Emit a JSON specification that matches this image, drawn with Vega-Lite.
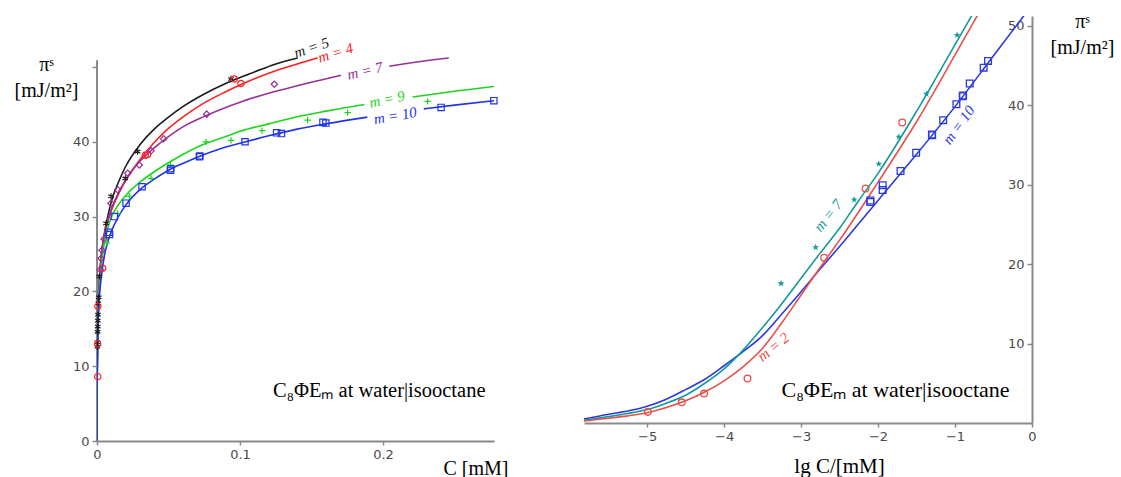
{
  "$schema": "https://vega.github.io/schema/vega-lite/v6.json",
  "background": "white",
  "padding": {"left": 14, "top": 11, "right": 0, "bottom": 0},
  "autosize": {"type": "pad"},
  "spacing": 76,
  "config": {
    "view": {"stroke": null},
    "axis": {
      "grid": false,
      "labelFont": "DejaVu Sans",
      "labelFontSize": 13,
      "labelColor": "#4a4a4a",
      "labelFlush": false,
      "labelOverlap": false,
      "domainColor": "#8a8a8a",
      "domainWidth": 2,
      "tickColor": "#8a8a8a",
      "tickWidth": 1.5,
      "tickSize": 4,
      "labelPadding": 3,
      "titleFont": "Liberation Serif",
      "titleFontWeight": "normal",
      "titleColor": "#000000"
    }
  },
  "resolve": {"scale": {"color": "independent", "shape": "independent"}},
  "hconcat": [
    {
      "width": 397,
      "height": 425,
      "layer": [
        {
          "data": {"values": [{"C": 0, "pi": 0, "pi2": 50.9}]},
          "mark": {"type": "rule", "color": "#8a8a8a", "strokeWidth": 2},
          "encoding": {
            "x": {"field": "C", "type": "quantitative",
              "scale": {"domain": [0, 0.2776], "nice": false, "zero": false},
              "axis": {"values": [0, 0.1, 0.2], "format": "~g", "title": "C [mM]", "titleFontSize": 20,
                "titleX": 411, "titleY": 27, "titleAlign": "right", "titleBaseline": "middle", "titleAnchor": "end"}},
            "y": {"field": "pi", "type": "quantitative",
              "scale": {"domain": [0, 56.82], "nice": false, "zero": false},
              "axis": {"values": [0, 10, 20, 30, 40, 50], "domain": false, "labelExpr": "datum.value == 50 ? '' : datum.label",
                "tickSize": 5, "title": ["πˢ", "[mJ/m²]"], "titleAngle": 0, "titleFontSize": 20, "titleLineHeight": 26,
                "titleX": -51, "titleY": 48, "titleAlign": "center", "titleBaseline": "middle", "titleAnchor": null}},
            "y2": {"field": "pi2"}
          }
        },
        {
          "data": {"values": [
            {"m":"5","s":"a","C":0,"pi":0},{"m":"5","s":"a","C":0.0001,"pi":7.5},{"m":"5","s":"a","C":0.0003,"pi":12.5},{"m":"5","s":"a","C":0.0006,"pi":16},{"m":"5","s":"a","C":0.001,"pi":19},{"m":"5","s":"a","C":0.002,"pi":22.5},{"m":"5","s":"a","C":0.003,"pi":24.8},{"m":"5","s":"a","C":0.005,"pi":27.6},{"m":"5","s":"a","C":0.0075,"pi":30},{"m":"5","s":"a","C":0.01,"pi":32},{"m":"5","s":"a","C":0.015,"pi":34.6},{"m":"5","s":"a","C":0.02,"pi":36.7},{"m":"5","s":"a","C":0.03,"pi":39.6},{"m":"5","s":"a","C":0.04,"pi":41.7},{"m":"5","s":"a","C":0.05,"pi":43.3},{"m":"5","s":"a","C":0.06,"pi":44.7},{"m":"5","s":"a","C":0.075,"pi":46.4},{"m":"5","s":"a","C":0.09,"pi":47.8},{"m":"5","s":"a","C":0.1,"pi":48.6},{"m":"5","s":"a","C":0.115,"pi":49.7},{"m":"5","s":"a","C":0.125,"pi":50.4},{"m":"5","s":"a","C":0.1403,"pi":51.2},
            {"m":"4","s":"a","C":0,"pi":0},{"m":"4","s":"a","C":0.0001,"pi":6},{"m":"4","s":"a","C":0.0003,"pi":11},{"m":"4","s":"a","C":0.0006,"pi":14.8},{"m":"4","s":"a","C":0.001,"pi":18},{"m":"4","s":"a","C":0.002,"pi":22},{"m":"4","s":"a","C":0.003,"pi":24.5},{"m":"4","s":"a","C":0.005,"pi":27.4},{"m":"4","s":"a","C":0.0075,"pi":29.3},{"m":"4","s":"a","C":0.01,"pi":30.8},{"m":"4","s":"a","C":0.015,"pi":33},{"m":"4","s":"a","C":0.02,"pi":34.8},{"m":"4","s":"a","C":0.03,"pi":37.6},{"m":"4","s":"a","C":0.04,"pi":39.9},{"m":"4","s":"a","C":0.05,"pi":41.8},{"m":"4","s":"a","C":0.06,"pi":43.3},{"m":"4","s":"a","C":0.075,"pi":45.2},{"m":"4","s":"a","C":0.09,"pi":46.7},{"m":"4","s":"a","C":0.1,"pi":47.6},{"m":"4","s":"a","C":0.115,"pi":48.8},{"m":"4","s":"a","C":0.125,"pi":49.5},{"m":"4","s":"a","C":0.14,"pi":50.4},{"m":"4","s":"a","C":0.1543,"pi":51.2},
            {"m":"7","s":"a","C":0,"pi":0},{"m":"7","s":"a","C":0.0001,"pi":7},{"m":"7","s":"a","C":0.0003,"pi":12},{"m":"7","s":"a","C":0.0006,"pi":15.8},{"m":"7","s":"a","C":0.001,"pi":19},{"m":"7","s":"a","C":0.002,"pi":22.5},{"m":"7","s":"a","C":0.003,"pi":24.8},{"m":"7","s":"a","C":0.005,"pi":27.3},{"m":"7","s":"a","C":0.0075,"pi":29.5},{"m":"7","s":"a","C":0.01,"pi":31},{"m":"7","s":"a","C":0.015,"pi":33.2},{"m":"7","s":"a","C":0.02,"pi":34.9},{"m":"7","s":"a","C":0.03,"pi":37.4},{"m":"7","s":"a","C":0.04,"pi":39.2},{"m":"7","s":"a","C":0.05,"pi":40.7},{"m":"7","s":"a","C":0.06,"pi":42},{"m":"7","s":"a","C":0.075,"pi":43.4},{"m":"7","s":"a","C":0.09,"pi":44.6},{"m":"7","s":"a","C":0.1,"pi":45.3},{"m":"7","s":"a","C":0.12,"pi":46.5},{"m":"7","s":"a","C":0.14,"pi":47.5},{"m":"7","s":"a","C":0.1706,"pi":48.9},
            {"m":"7","s":"b","C":0.2044,"pi":50.1},{"m":"7","s":"b","C":0.225,"pi":50.7},{"m":"7","s":"b","C":0.246,"pi":51.2},
            {"m":"9","s":"a","C":0,"pi":0},{"m":"9","s":"a","C":0.0001,"pi":7.5},{"m":"9","s":"a","C":0.0003,"pi":11.5},{"m":"9","s":"a","C":0.0006,"pi":14.8},{"m":"9","s":"a","C":0.001,"pi":17.5},{"m":"9","s":"a","C":0.002,"pi":21.2},{"m":"9","s":"a","C":0.003,"pi":23.5},{"m":"9","s":"a","C":0.005,"pi":26.3},{"m":"9","s":"a","C":0.0075,"pi":28.4},{"m":"9","s":"a","C":0.01,"pi":29.9},{"m":"9","s":"a","C":0.015,"pi":31.6},{"m":"9","s":"a","C":0.02,"pi":32.8},{"m":"9","s":"a","C":0.03,"pi":34.6},{"m":"9","s":"a","C":0.04,"pi":36},{"m":"9","s":"a","C":0.05,"pi":37.2},{"m":"9","s":"a","C":0.06,"pi":38.3},{"m":"9","s":"a","C":0.075,"pi":39.7},{"m":"9","s":"a","C":0.09,"pi":40.7},{"m":"9","s":"a","C":0.1,"pi":41.4},{"m":"9","s":"a","C":0.12,"pi":42.4},{"m":"9","s":"a","C":0.14,"pi":43.35},{"m":"9","s":"a","C":0.16,"pi":44.1},{"m":"9","s":"a","C":0.187,"pi":45},
            {"m":"9","s":"b","C":0.2207,"pi":46},{"m":"9","s":"b","C":0.25,"pi":46.75},{"m":"9","s":"b","C":0.2776,"pi":47.4},
            {"m":"10","s":"a","C":0,"pi":0},{"m":"10","s":"a","C":0.00001,"pi":2.1},{"m":"10","s":"a","C":0.00003,"pi":4.2},{"m":"10","s":"a","C":0.0001,"pi":7.2},{"m":"10","s":"a","C":0.0003,"pi":10.8},{"m":"10","s":"a","C":0.0006,"pi":13.8},{"m":"10","s":"a","C":0.001,"pi":16.5},{"m":"10","s":"a","C":0.002,"pi":20},{"m":"10","s":"a","C":0.003,"pi":21.9},{"m":"10","s":"a","C":0.005,"pi":24.6},{"m":"10","s":"a","C":0.0075,"pi":26.6},{"m":"10","s":"a","C":0.01,"pi":28},{"m":"10","s":"a","C":0.015,"pi":30},{"m":"10","s":"a","C":0.02,"pi":31.5},{"m":"10","s":"a","C":0.03,"pi":33.6},{"m":"10","s":"a","C":0.04,"pi":35},{"m":"10","s":"a","C":0.05,"pi":36.2},{"m":"10","s":"a","C":0.06,"pi":37.1},{"m":"10","s":"a","C":0.075,"pi":38.3},{"m":"10","s":"a","C":0.09,"pi":39.3},{"m":"10","s":"a","C":0.1,"pi":39.8},{"m":"10","s":"a","C":0.12,"pi":40.8},{"m":"10","s":"a","C":0.14,"pi":41.7},{"m":"10","s":"a","C":0.16,"pi":42.4},{"m":"10","s":"a","C":0.189,"pi":43.3},
            {"m":"10","s":"b","C":0.2285,"pi":44.4},{"m":"10","s":"b","C":0.25,"pi":44.9},{"m":"10","s":"b","C":0.2776,"pi":45.5}
          ]},
          "mark": {"type": "line", "strokeWidth": 1.6, "clip": true, "interpolate": "monotone"},
          "encoding": {
            "x": {"field": "C", "type": "quantitative"},
            "y": {"field": "pi", "type": "quantitative"},
            "color": {"field": "m", "type": "nominal", "legend": null,
              "scale": {"domain": ["5", "4", "7", "9", "10"], "range": ["#1a1a1a", "#ff2020", "#9a2f96", "#1ed41e", "#1f35e6"]}},
            "detail": {"field": "s"}
          }
        },
        {
          "data": {"values": [
            {"m":"5","C":0.0002,"pi":12.6},{"m":"5","C":0.0003,"pi":13.2},{"m":"5","C":0.0004,"pi":14.6},{"m":"5","C":0.0005,"pi":15.3},{"m":"5","C":0.0006,"pi":16.1},{"m":"5","C":0.0007,"pi":16.9},{"m":"5","C":0.0009,"pi":18.4},{"m":"5","C":0.0012,"pi":19.2},{"m":"5","C":0.0016,"pi":22},{"m":"5","C":0.0063,"pi":29.1},{"m":"5","C":0.0098,"pi":32.7},{"m":"5","C":0.0198,"pi":35.1},{"m":"5","C":0.0284,"pi":38.7},{"m":"5","C":0.0937,"pi":48.4},
            {"m":"4","C":0.0005,"pi":8.6},{"m":"4","C":0.0005,"pi":13},{"m":"4","C":0.0006,"pi":18},{"m":"4","C":0.004,"pi":23.1},{"m":"4","C":0.0338,"pi":38.2},{"m":"4","C":0.0354,"pi":38.3},{"m":"4","C":0.096,"pi":48.4},{"m":"4","C":0.1007,"pi":47.8},
            {"m":"7","C":0.0023,"pi":22.9},{"m":"7","C":0.0028,"pi":24.4},{"m":"7","C":0.0035,"pi":25.5},{"m":"7","C":0.005,"pi":27},{"m":"7","C":0.0098,"pi":31.8},{"m":"7","C":0.0145,"pi":33.6},{"m":"7","C":0.0215,"pi":35.8},{"m":"7","C":0.0296,"pi":36.9},{"m":"7","C":0.0378,"pi":38.8},{"m":"7","C":0.0466,"pi":40.4},{"m":"7","C":0.0767,"pi":43.7},{"m":"7","C":0.124,"pi":47.7},
            {"m":"9","C":0.007,"pi":26.5},{"m":"9","C":0.0145,"pi":30.4},{"m":"9","C":0.0226,"pi":32.7},{"m":"9","C":0.0378,"pi":35.1},{"m":"9","C":0.0513,"pi":36.9},{"m":"9","C":0.0762,"pi":40},{"m":"9","C":0.0937,"pi":40.2},{"m":"9","C":0.1154,"pi":41.5},{"m":"9","C":0.1473,"pi":42.9},{"m":"9","C":0.1753,"pi":43.9},{"m":"9","C":0.2312,"pi":45.4},
            {"m":"10","C":0.0084,"pi":27.9},{"m":"10","C":0.0088,"pi":27.6},{"m":"10","C":0.0121,"pi":30},{"m":"10","C":0.0203,"pi":31.8},{"m":"10","C":0.0315,"pi":34},{"m":"10","C":0.0513,"pi":36.2},{"m":"10","C":0.0516,"pi":36.4},{"m":"10","C":0.0716,"pi":38},{"m":"10","C":0.0719,"pi":38.1},{"m":"10","C":0.1035,"pi":40},{"m":"10","C":0.1256,"pi":41.2},{"m":"10","C":0.129,"pi":41.1},{"m":"10","C":0.158,"pi":42.6},{"m":"10","C":0.16,"pi":42.5},{"m":"10","C":0.2406,"pi":44.6},{"m":"10","C":0.2775,"pi":45.5}
          ]},
          "mark": {"type": "point", "filled": false, "strokeWidth": 1.2, "size": 40, "opacity": 1},
          "encoding": {
            "x": {"field": "C", "type": "quantitative"},
            "y": {"field": "pi", "type": "quantitative"},
            "color": {"field": "m", "type": "nominal", "legend": null},
            "shape": {"field": "m", "type": "nominal", "legend": null,
              "scale": {"domain": ["5", "4", "7", "9", "10"],
                "range": ["M0,-1L0,1M-0.87,-0.5L0.87,0.5M-0.87,0.5L0.87,-0.5", "circle", "diamond", "M-1,0L1,0M0,-1L0,1", "square"]}}
          }
        },
        {
          "data": {"values": [
            {"m":"5","C":0.15,"pi":52.6,"t":"m = 5"},
            {"m":"4","C":0.1668,"pi":51.9,"t":"m = 4"},
            {"m":"7","C":0.1874,"pi":49.5,"t":"m = 7"},
            {"m":"9","C":0.2028,"pi":45.7,"t":"m = 9"},
            {"m":"10","C":0.2085,"pi":43.5,"t":"m = 10"}
          ]},
          "mark": {"type": "text", "font": "Liberation Serif", "fontSize": 15, "fontStyle": "italic", "align": "center", "baseline": "middle"},
          "encoding": {
            "x": {"field": "C", "type": "quantitative"},
            "y": {"field": "pi", "type": "quantitative"},
            "text": {"field": "t"},
            "color": {"field": "m", "type": "nominal", "legend": null},
            "angle": {"condition": [
              {"test": "datum.m == '5'", "value": 342},
              {"test": "datum.m == '4'", "value": 343},
              {"test": "datum.m == '7'", "value": 347},
              {"test": "datum.m == '9'", "value": 348}
            ], "value": 350}
          }
        },
        {
          "data": {"values": [{"C": 0.1974, "pi": 6.7, "t": "C₈ΦEₘ at water|isooctane"}]},
          "mark": {"type": "text", "font": "Liberation Serif", "fontSize": 20.5, "color": "#000000", "align": "center", "baseline": "middle"},
          "encoding": {
            "x": {"field": "C", "type": "quantitative"},
            "y": {"field": "pi", "type": "quantitative"},
            "text": {"field": "t"}
          }
        }
      ]
    },
    {
      "width": 448,
      "height": 407,
      "layer": [
        {
          "data": {"values": [
            {"mR":"10","lg":-5.82,"pi":0.5},{"mR":"10","lg":-5.5,"pi":1.1},{"mR":"10","lg":-5.25,"pi":1.5},{"mR":"10","lg":-5,"pi":2.1},{"mR":"10","lg":-4.75,"pi":3},{"mR":"10","lg":-4.5,"pi":4.2},{"mR":"10","lg":-4.25,"pi":5.5},{"mR":"10","lg":-4,"pi":7.2},{"mR":"10","lg":-3.75,"pi":9},{"mR":"10","lg":-3.5,"pi":11},{"mR":"10","lg":-3.25,"pi":13.7},{"mR":"10","lg":-3,"pi":16.5},{"mR":"10","lg":-2.75,"pi":19.4},{"mR":"10","lg":-2.5,"pi":22.2},{"mR":"10","lg":-2.25,"pi":25.1},{"mR":"10","lg":-2,"pi":28},{"mR":"10","lg":-1.5,"pi":33.8},{"mR":"10","lg":-1,"pi":39.8},{"mR":"10","lg":-0.5,"pi":46.2},{"mR":"10","lg":-0.1,"pi":51.3},
            {"mR":"7","lg":-5.82,"pi":0.35},{"mR":"7","lg":-5.5,"pi":0.8},{"mR":"7","lg":-5.25,"pi":1.2},{"mR":"7","lg":-5,"pi":1.7},{"mR":"7","lg":-4.75,"pi":2.5},{"mR":"7","lg":-4.5,"pi":3.5},{"mR":"7","lg":-4.25,"pi":5},{"mR":"7","lg":-4,"pi":6.8},{"mR":"7","lg":-3.75,"pi":9.2},{"mR":"7","lg":-3.5,"pi":12},{"mR":"7","lg":-3.25,"pi":15},{"mR":"7","lg":-3,"pi":18.2},{"mR":"7","lg":-2.75,"pi":21.4},{"mR":"7","lg":-2.5,"pi":24.5},{"mR":"7","lg":-2.25,"pi":28},{"mR":"7","lg":-2,"pi":31.4},{"mR":"7","lg":-1.5,"pi":39.2},{"mR":"7","lg":-1,"pi":47.6},{"mR":"7","lg":-0.75,"pi":51.8},
            {"mR":"2","lg":-5.82,"pi":0.25},{"mR":"2","lg":-5.5,"pi":0.6},{"mR":"2","lg":-5.25,"pi":0.9},{"mR":"2","lg":-5,"pi":1.3},{"mR":"2","lg":-4.75,"pi":1.95},{"mR":"2","lg":-4.5,"pi":2.8},{"mR":"2","lg":-4.25,"pi":3.9},{"mR":"2","lg":-4,"pi":5.3},{"mR":"2","lg":-3.75,"pi":7.1},{"mR":"2","lg":-3.5,"pi":9.4},{"mR":"2","lg":-3.25,"pi":12.6},{"mR":"2","lg":-3,"pi":16.1},{"mR":"2","lg":-2.75,"pi":19.6},{"mR":"2","lg":-2.5,"pi":23},{"mR":"2","lg":-2,"pi":30.3},{"mR":"2","lg":-1.5,"pi":37.9},{"mR":"2","lg":-1,"pi":46.3},{"mR":"2","lg":-0.69,"pi":51.6}
          ]},
          "mark": {"type": "line", "strokeWidth": 1.6, "clip": true, "interpolate": "monotone"},
          "encoding": {
            "x": {"field": "lg", "type": "quantitative",
              "scale": {"domain": [-5.82, 0], "nice": false, "zero": false},
              "axis": {"values": [-5, -4, -3, -2, -1, 0], "format": "~g", "title": "lg C/[mM]", "titleFontSize": 21,
                "titleX": 255, "titleY": 43, "titleAlign": "center", "titleBaseline": "middle", "titleAnchor": null}},
            "y": {"field": "pi", "type": "quantitative",
              "scale": {"domain": [0, 51.2], "nice": false, "zero": false},
              "axis": {"orient": "left", "offset": -448, "values": [10, 20, 30, 40, 50], "tickSize": 5,
                "title": ["πˢ", "[mJ/m²]"], "titleAngle": 0, "titleFontSize": 20, "titleLineHeight": 26,
                "titleX": 50, "titleY": 5, "titleAlign": "center", "titleBaseline": "middle", "titleAnchor": null}},
            "color": {"field": "mR", "type": "nominal", "legend": null,
              "scale": {"domain": ["2", "7", "10"], "range": ["#e8504a", "#13999a", "#2b39e0"]}}
          }
        },
        {
          "data": {"values": [
            {"mR":"2","lg":-1.686,"pi":37.8},{"mR":"2","lg":-2.162,"pi":29.5},{"mR":"2","lg":-2.7,"pi":20.8},{"mR":"2","lg":-3.696,"pi":5.6},{"mR":"2","lg":-4.26,"pi":3.7},{"mR":"2","lg":-4.55,"pi":2.6},{"mR":"2","lg":-4.99,"pi":1.4},
            {"mR":"10","lg":-0.571,"pi":45.55},{"mR":"10","lg":-0.628,"pi":44.7},{"mR":"10","lg":-0.809,"pi":42.7},{"mR":"10","lg":-0.895,"pi":41.2},{"mR":"10","lg":-0.9,"pi":41.1},{"mR":"10","lg":-0.982,"pi":40.1},{"mR":"10","lg":-1.154,"pi":38.1},{"mR":"10","lg":-1.297,"pi":36.2},{"mR":"10","lg":-1.3,"pi":36.3},{"mR":"10","lg":-1.505,"pi":34},{"mR":"10","lg":-1.708,"pi":31.7},{"mR":"10","lg":-1.94,"pi":29.9},{"mR":"10","lg":-1.94,"pi":29.3},{"mR":"10","lg":-2.1,"pi":28},{"mR":"10","lg":-2.1,"pi":27.8}
          ]},
          "mark": {"type": "point", "filled": false, "strokeWidth": 1.3, "size": 45, "opacity": 1},
          "encoding": {
            "x": {"field": "lg", "type": "quantitative"},
            "y": {"field": "pi", "type": "quantitative"},
            "color": {"field": "mR", "type": "nominal", "legend": null},
            "shape": {"field": "mR", "type": "nominal", "legend": null,
              "scale": {"domain": ["2", "10"], "range": ["circle", "square"]}}
          }
        },
        {
          "data": {"values": [
            {"mR":"7","lg":-0.973,"pi":48.8},{"mR":"7","lg":-1.371,"pi":41.4},{"mR":"7","lg":-1.73,"pi":36},{"mR":"7","lg":-1.99,"pi":32.6},{"mR":"7","lg":-2.31,"pi":28.1},{"mR":"7","lg":-2.81,"pi":22.1},{"mR":"7","lg":-3.26,"pi":17.55}
          ]},
          "mark": {"type": "point", "filled": true, "size": 55, "opacity": 1,
            "shape": "M0,-1L0.2245,-0.309L0.951,-0.309L0.363,0.118L0.588,0.809L0,0.382L-0.588,0.809L-0.363,0.118L-0.951,-0.309L-0.2245,-0.309Z"},
          "encoding": {
            "x": {"field": "lg", "type": "quantitative"},
            "y": {"field": "pi", "type": "quantitative"},
            "color": {"field": "mR", "type": "nominal", "legend": null}
          }
        },
        {
          "data": {"values": [
            {"mR":"7","lg":-2.649,"pi":26.1,"t":"m = 7"},
            {"mR":"2","lg":-3.362,"pi":9.57,"t":"m = 2"},
            {"mR":"10","lg":-0.952,"pi":37.5,"t":"m = 10"}
          ]},
          "mark": {"type": "text", "font": "Liberation Serif", "fontSize": 15, "fontStyle": "italic", "align": "center", "baseline": "middle"},
          "encoding": {
            "x": {"field": "lg", "type": "quantitative"},
            "y": {"field": "pi", "type": "quantitative"},
            "text": {"field": "t"},
            "color": {"field": "mR", "type": "nominal", "legend": null},
            "angle": {"condition": [
              {"test": "datum.mR == '7'", "value": 309},
              {"test": "datum.mR == '2'", "value": 321}
            ], "value": 306}
          }
        },
        {
          "data": {"values": [{"lg": -1.773, "pi": 4.2, "t": "C₈ΦEₘ at water|isooctane"}]},
          "mark": {"type": "text", "font": "Liberation Serif", "fontSize": 22, "color": "#000000", "align": "center", "baseline": "middle"},
          "encoding": {
            "x": {"field": "lg", "type": "quantitative"},
            "y": {"field": "pi", "type": "quantitative"},
            "text": {"field": "t"}
          }
        }
      ]
    }
  ]
}
